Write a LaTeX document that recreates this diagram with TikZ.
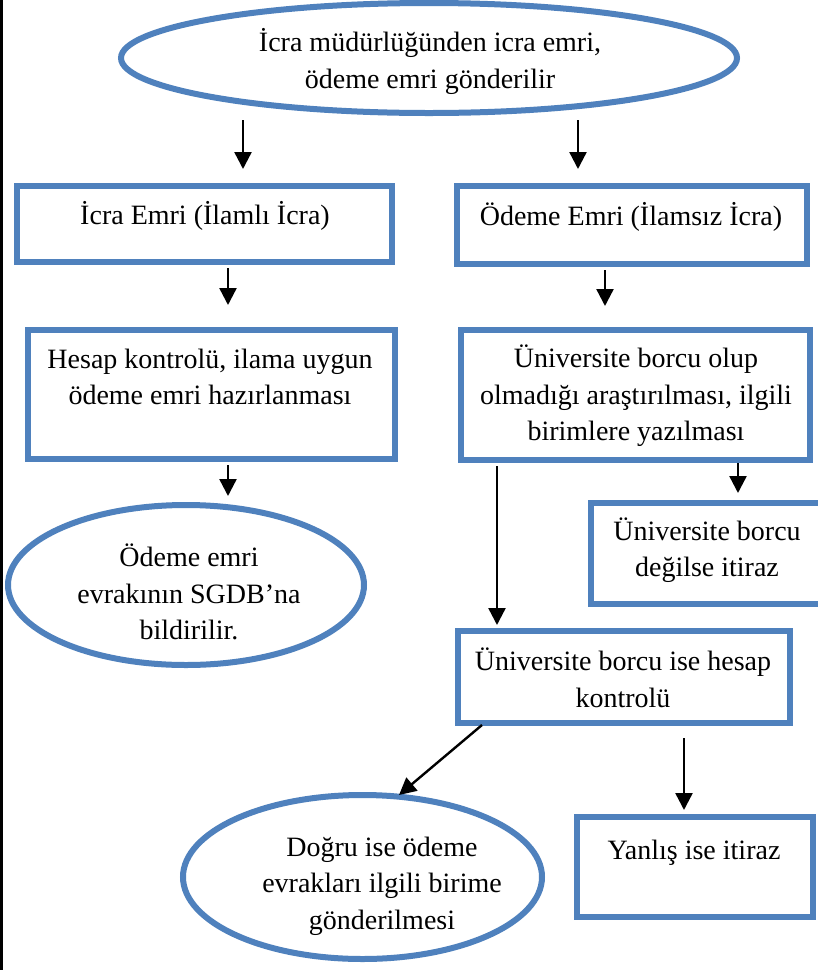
\documentclass[tikz,border=0pt]{standalone}
\usepackage{fontspec}
\setmainfont{Liberation Serif}
\usetikzlibrary{shapes.geometric,arrows.meta,calc}
\definecolor{boxblue}{RGB}{79,129,189}
\begin{document}
\begin{tikzpicture}[x=1pt,y=-1pt,
  shapebox/.style={draw=boxblue, line width=6pt, rectangle, inner sep=0pt},
  oval/.style={draw=boxblue, line width=6pt, ellipse, inner sep=0pt},
  txt/.style={align=center, font=\fontsize{28}{36.5}\selectfont, inner sep=0pt},
  arr/.style={line width=2.4pt, -{Triangle[width=17pt,length=17pt]}}]
\useasboundingbox (0,0) rectangle (818,970);
\clip (0,0) rectangle (818,970);
\fill[white] (0,0) rectangle (818,970);
\fill[black] (0,0) rectangle (2.5,970);

% shapes
\node[oval, minimum width=616pt, minimum height=110pt] (top) at (429,58) {};
\node[shapebox, minimum width=375pt, minimum height=76pt] (b1) at (204.5,224) {};
\node[shapebox, minimum width=350pt, minimum height=78pt] (b2) at (632,225) {};
\node[shapebox, minimum width=367pt, minimum height=129pt] (b3) at (211.5,394.5) {};
\node[shapebox, minimum width=349pt, minimum height=130pt] (b4) at (635.5,395) {};
\node[oval, minimum width=356pt, minimum height=160pt] (e1) at (186,585) {};
\node[shapebox, minimum width=246pt, minimum height=101pt] (b5) at (714,553.5) {};
\node[shapebox, minimum width=332pt, minimum height=92pt] (b6) at (624,677) {};
\node[oval, minimum width=359pt, minimum height=164pt] (e2) at (362.5,877) {};
\node[shapebox, minimum width=236pt, minimum height=100pt] (b7) at (695,867) {};

% texts
\node[txt] (ttop) at (430,61.5) {İcra müdürlüğünden icra emri,\\ödeme emri gönderilir};
\node[txt] (t1) at (205,216) {İcra Emri (İlamlı İcra)};
\node[txt] (t2) at (631,217) {Ödeme Emri (İlamsız İcra)};
\node[txt] (t3) at (210,377) {Hesap kontrolü, ilama uygun\\ödeme emri hazırlanması};
\node[txt] (t4) at (636,396) {Üniversite borcu olup\\olmadığı araştırılması, ilgili\\birimlere yazılması};
\node[txt] (te1) at (189,592) {Ödeme emri\\evrakının SGDB’na\\bildirilir.};
\node[txt] (t5) at (707,550) {Üniversite borcu\\değilse itiraz};
\node[txt] (t6) at (623,678) {Üniversite borcu ise hesap\\kontrolü};
\node[txt] (te2) at (382,886) {Doğru ise ödeme\\evrakları ilgili birime\\gönderilmesi};
\node[txt] (t7) at (694,853) {Yanlış ise itiraz};

% connectors
\coordinate (a1s) at (243,120);
\coordinate (a2s) at (578,120);
\draw[arr, shorten >=14pt] (a1s) -- (a1s |- b1.north);
\draw[arr, shorten >=14pt] (a2s) -- (a2s |- b2.north);
\draw[arr, shorten <=3pt, shorten >=22pt] ([xshift=23.5pt]b1.south) -- ([xshift=16.5pt]b3.north);
\draw[arr, shorten <=3pt, shorten >=21pt] ([xshift=-27pt]b2.south) -- ([xshift=-30.5pt]b4.north);
\draw[arr, shorten <=3pt, shorten >=6pt] ([xshift=16.5pt]b3.south) -- ([xshift=16.5pt]b3.south |- e1.north);
\draw[arr, shorten <=3pt, shorten >=3pt] ([xshift=-138.5pt]b4.south) -- ([xshift=-127pt]b6.north);
\draw[arr, shorten >=7pt] ([xshift=102.5pt]b4.south) -- ([xshift=24pt]b5.north);
\draw[arr] ([xshift=27pt,yshift=1pt]b6.south west) -- ([xshift=36.5pt,yshift=-3pt]e2.north);
\draw[arr, shorten <=12pt, shorten >=4pt] ([xshift=60pt]b6.south) -- ([xshift=60pt]b6.south |- b7.north);
\end{tikzpicture}
\end{document}
